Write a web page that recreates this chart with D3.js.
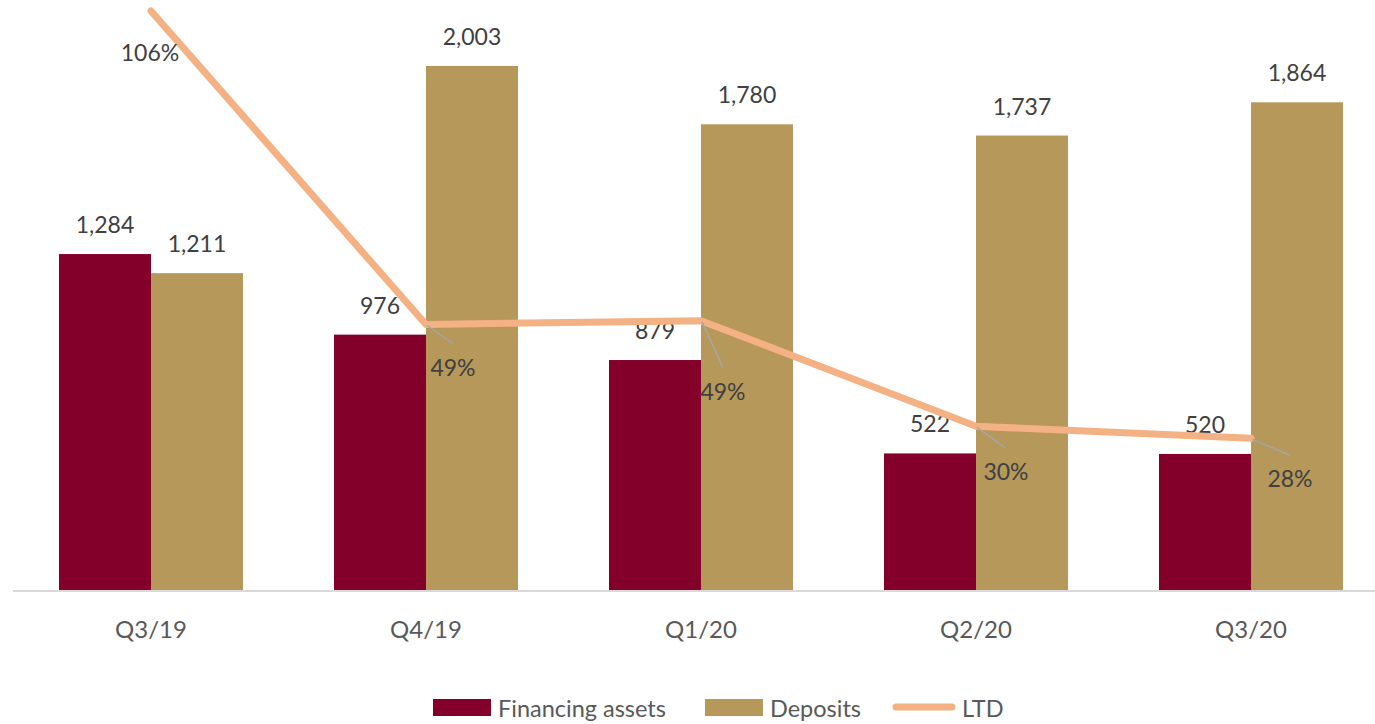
<!DOCTYPE html>
<html>
<head>
<meta charset="utf-8">
<script src="https://cdn.jsdelivr.net/npm/d3@7"></script>
<style>
  html, body { margin: 0; padding: 0; background: #fff; }
  svg { display: block; }
  text { font-family: Lato, "Open Sans", sans-serif; }
</style>
</head>
<body>
<svg id="chart" width="1375" height="724"></svg>
<script>
// ---- Data ----
const categories = ["Q3/19", "Q4/19", "Q1/20", "Q2/20", "Q3/20"];
const financingAssets = [1284, 976, 879, 522, 520];
const deposits = [1211, 2003, 1780, 1737, 1864];
const ltd = [106.0, 48.7, 49.4, 30.1, 27.9];
const seriesNames = ["Financing assets", "Deposits", "LTD"];

// ---- Layout / styles ----
const W = 1375, H = 724;
const baseY = 591;
const colors = { fin: "#820029", dep: "#B5985A", ltd: "#F4B183" };

const svg = d3.select("#chart");

const x = d3.scaleBand().domain(categories).range([13.5, 1388.5]).padding(0);
const x1 = d3.scaleBand().domain(["fin", "dep"]).range([0, 184]).padding(0);
const y = d3.scaleLinear().domain([0, 2255]).range([baseY - 1, 0]);
const y2 = d3.scaleLinear().domain([0, 108]).range([baseY, 0]);

const groupX = c => x(c) + x.bandwidth() / 2 - 92;

// Bars
const barData = [];
categories.forEach((c, i) => {
  barData.push({ c, key: "fin", v: financingAssets[i] });
  barData.push({ c, key: "dep", v: deposits[i] });
});

svg.append("g").selectAll("rect").data(barData).join("rect")
  .attr("x", d => groupX(d.c) + x1(d.key))
  .attr("y", d => y(d.v))
  .attr("width", x1.bandwidth())
  .attr("height", d => y(0) - y(d.v))
  .attr("fill", d => colors[d.key]);

// Axis line (bottom)
const xAxis = d3.axisBottom(x).tickSize(0).tickPadding(30);
const gx = svg.append("g").attr("transform", `translate(0,${baseY})`).call(xAxis);
gx.select(".domain").attr("stroke", "#D9D9D9").attr("stroke-width", 2)
  .attr("d", `M13,0H${W}`);
gx.selectAll(".tick text")
  .attr("fill", "#595959")
  .style("font-size", "24px")
  .style("font-family", "Lato, sans-serif");

// Bar value labels
const fmt = d3.format(",");
svg.append("g").selectAll("text").data(barData).join("text")
  .attr("x", d => groupX(d.c) + x1(d.key) + x1.bandwidth() / 2)
  .attr("y", d => y(d.v) - 21)
  .attr("text-anchor", "middle")
  .attr("fill", "#404040")
  .style("font-size", "23px")
  .text(d => fmt(d.v));

// LTD line
const cx = c => x(c) + x.bandwidth() / 2;
const lineData = categories.map((c, i) => ({ c, v: ltd[i] }));
svg.append("path").datum(lineData)
  .attr("fill", "none")
  .attr("stroke", colors.ltd)
  .attr("stroke-width", 7)
  .attr("stroke-linecap", "round")
  .attr("stroke-linejoin", "round")
  .attr("d", d3.line().x(d => cx(d.c)).y(d => y2(d.v)));

// LTD labels with leader lines
const ltdOffsets = [
  { dx: -1, dy: 50, leader: false },
  { dx: 27, dy: 51, leader: true },
  { dx: 22, dy: 79, leader: true },
  { dx: 30, dy: 54, leader: true },
  { dx: 39, dy: 49, leader: true }
];
const pct = d3.format(".0f");
const lg = svg.append("g");
lineData.forEach((d, i) => {
  const px = cx(d.c), py = y2(d.v);
  const o = ltdOffsets[i];
  const lx = px + o.dx, ly = py + o.dy;
  if (o.leader) {
    lg.append("line")
      .attr("x1", px + 1).attr("y1", py + 1)
      .attr("x2", lx).attr("y2", ly - 32)
      .attr("stroke", "#A6A6A6").attr("stroke-width", 1.5);
  }
  lg.append("text")
    .attr("x", lx).attr("y", ly)
    .attr("text-anchor", "middle")
    .attr("fill", "#404040")
    .style("font-size", "23px")
    .text(pct(d.v) + "%");
});

// Legend
const leg = svg.append("g");
const legendItems = [
  { name: seriesNames[0], type: "rect", color: colors.fin, x: 433 },
  { name: seriesNames[1], type: "rect", color: colors.dep, x: 705 },
  { name: seriesNames[2], type: "line", color: colors.ltd, x: 893 }
];
legendItems.forEach(it => {
  if (it.type === "rect") {
    leg.append("rect").attr("x", it.x).attr("y", 699).attr("width", 58).attr("height", 17).attr("fill", it.color);
    leg.append("text").attr("x", it.x + 65).attr("y", 717).attr("fill", "#595959")
      .style("font-size", "23.5px").text(it.name);
  } else {
    leg.append("line").attr("x1", it.x + 3).attr("x2", it.x + 59).attr("y1", 707).attr("y2", 707)
      .attr("stroke", it.color).attr("stroke-width", 7).attr("stroke-linecap", "round");
    leg.append("text").attr("x", it.x + 69).attr("y", 717).attr("fill", "#595959")
      .style("font-size", "23.5px").text(it.name);
  }
});
</script>
</body>
</html>
